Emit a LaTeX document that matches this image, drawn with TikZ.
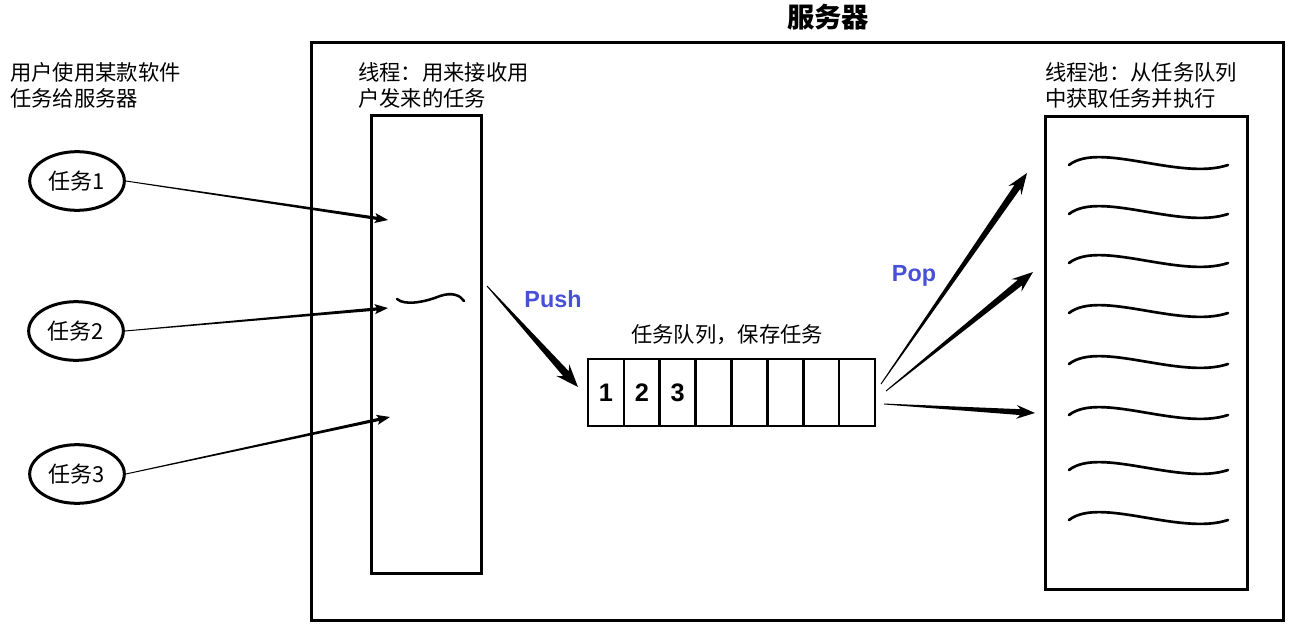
\documentclass[tikz,border=0pt]{standalone}
\usepackage{fontspec}
\setmainfont{Noto Sans CJK SC}
\newfontfamily\arialf{Liberation Sans}
\usetikzlibrary{calc,shapes.geometric}
\definecolor{pushblue}{RGB}{72,80,214}
\newcommand{\taper}[6]{%
  \coordinate (tb) at ($(#2)!#4!(#1)$);
  \coordinate (tn) at ($(#2)!#6!(#1)$);
  \fill ($(#1)!0.35pt!90:(#2)$) -- ($(tn)!#3!90:(#2)$) -- ($(tb)!#5!90:(#2)$) -- (#2)
     -- ($(tb)!#5!-90:(#2)$) -- ($(tn)!#3!-90:(#2)$) -- ($(#1)!0.35pt!-90:(#2)$) -- cycle;
}
\tikzset{
  txt/.style={anchor=base west, inner sep=0pt, font=\fontsize{16pt}{19pt}\selectfont},
  ctxt/.style={anchor=base, inner sep=0pt, font=\fontsize{16pt}{19pt}\selectfont},
  bigbox/.style={draw, line width=2.25pt, rectangle, inner sep=0pt},
  task/.style={draw, ellipse, line width=2.25pt, minimum width=71pt, minimum height=44pt, inner sep=0pt, font=\fontsize{16.5pt}{19pt}\selectfont},
  cell/.style={draw, line width=1.9pt, rectangle, minimum width=26.9pt, minimum height=50.25pt, inner sep=0pt, font=\arialf\bfseries\fontsize{19pt}{22pt}\selectfont},
  oplabel/.style={anchor=base, inner sep=0pt, text=pushblue, font=\arialf\bfseries\fontsize{17.5pt}{20pt}\selectfont},
  wave/.style={line width=2pt, line cap=round},
}
\begin{document}
\begin{tikzpicture}[x=0.75pt,y=-0.75pt]
\useasboundingbox (0,0) rectangle (1290,625);
% server
\node[bigbox, minimum width=729pt, minimum height=433.5pt] (server) at (797,331) {};
\node[anchor=base, inner sep=0pt, font=\bfseries\fontsize{20.5pt}{24pt}\selectfont] (title) at (828,27) {服务器};
% left text
\node[txt] (lt1) at (10,80) {用户使用某款软件};
\node[txt] (lt2) at (10,106) {任务给服务器};
% tasks
\node[task] (t1) at (77,181) {任务1};
\node[task] (t2) at (76,331) {任务2};
\node[task] (t3) at (77,474) {任务3};
% thread
\node[txt] (th1) at (358,80) {线程：用来接收用};
\node[txt] (th2) at (358,106) {户发来的任务};
\node[bigbox, minimum width=82.5pt, minimum height=343.5pt] (thread) at (426.5,344) {};
\draw[line width=1.9pt, line cap=round] (397,299) .. controls (405,306) and (425,302) .. (440,296) .. controls (452,292) and (460,295) .. (464,301);
% pool
\node[txt] (pl1) at (1045,80) {线程池：从任务队列};
\node[txt] (pl2) at (1045,106) {中获取任务并执行};
\node[bigbox, minimum width=151.5pt, minimum height=354.75pt] (pool) at (1146,352.5) {};
\foreach \s in {165,214,263,313,364,415,470,520}
  \draw[wave] (1069,\s) .. controls (1100,\s-24) and (1180,\s+16) .. (1228,\s);
% queue
\node[ctxt] (ql) at (727,342) {任务队列，保存任务};
\foreach \i/\t in {1/1,2/2,3/3,4/,5/,6/,7/,8/}
  \node[cell] (q\i) at ({588+35.875*(\i-0.5)},392.5) {\t};
% labels
\node[oplabel] (push) at (553,307) {Push};
\node[oplabel] (pop) at (914,281) {Pop};
% coordinates
\coordinate (a1) at (388,220);
\coordinate (a2) at (388,308);
\coordinate (a3) at (390,417);
\coordinate (ps) at (487,286);
\coordinate (pe) at (578,387);
\coordinate (o1s) at (881,384);
\coordinate (o1e) at (1027,173);
\coordinate (o2s) at (886,391);
\coordinate (o2e) at (1033,272);
\coordinate (o3s) at (884,404);
\coordinate (o3e) at (1035,413);
% arrows
\taper{t1.east}{a1}{1.2pt}{10pt}{3.8pt}{8.5pt}
\taper{t2.east}{a2}{1.2pt}{10pt}{3.8pt}{8.5pt}
\taper{t3.east}{a3}{1.2pt}{10pt}{3.8pt}{8.5pt}
\taper{ps}{pe}{2.8pt}{17pt}{6.5pt}{13.5pt}
\taper{o1s}{o1e}{2.6pt}{16pt}{6pt}{12.5pt}
\taper{o2s}{o2e}{2.6pt}{16pt}{6pt}{12.5pt}
\taper{o3s}{o3e}{2.2pt}{14pt}{5.2pt}{11pt}
\end{tikzpicture}
\end{document}
